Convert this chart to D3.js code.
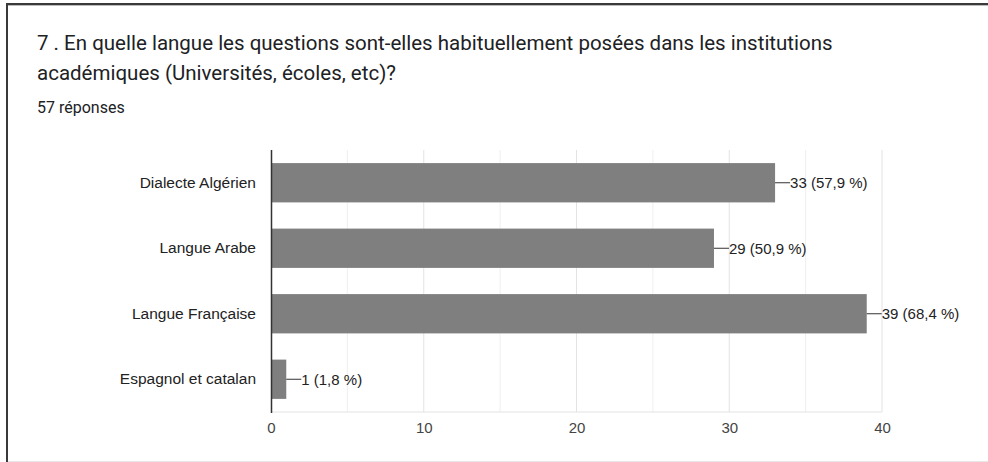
<!DOCTYPE html>
<html><head><meta charset="utf-8">
<script src="https://cdn.jsdelivr.net/npm/d3@7"></script>
<style>body{margin:0;background:#fff}svg{display:block}</style>
</head><body>
<svg id="c" width="988" height="462"></svg>
<script>
const titleLines = ["7 . En quelle langue les questions sont-elles habituellement posées dans les institutions", "académiques (Universités, écoles, etc)?"];
const subtitle = "57 réponses";
const categories = ["Dialecte Algérien", "Langue Arabe", "Langue Française", "Espagnol et catalan"];
const counts = [33, 29, 39, 1];
const percents = ["57,9", "50,9", "68,4", "1,8"];
const tickValues = [0, 10, 20, 30, 40];
const gridValues = [5, 10, 15, 20, 25, 30, 35, 40];

const svg = d3.select("#c");
const W = 988, H = 462;
// frame
svg.append("line").attr("x1",6).attr("x2",W).attr("y1",4).attr("y2",4).attr("stroke","#3a3a3a").attr("stroke-width",2);
svg.append("line").attr("x1",6).attr("x2",W).attr("y1",5.5).attr("y2",5.5).attr("stroke","#bbb").attr("stroke-width",1);
svg.append("line").attr("x1",7).attr("x2",7).attr("y1",3).attr("y2",H).attr("stroke","#3a3a3a").attr("stroke-width",2);
svg.append("line").attr("x1",8).attr("x2",W).attr("y1",461.5).attr("y2",461.5).attr("stroke","#e6e6e6").attr("stroke-width",1);

const tfont = "Roboto, 'Open Sans', sans-serif";
svg.selectAll("text.title").data(titleLines).join("text").attr("class","title")
  .attr("x",37).attr("y",(d,i)=>50+i*30).attr("font-family",tfont).attr("font-size",20.5)
  .attr("fill","#202124").text(d=>d);
svg.append("text").attr("x",37).attr("y",113).attr("font-family",tfont).attr("font-size",16)
  .attr("fill","#202124").text(subtitle);

const x = d3.scaleLinear().domain([0,40]).range([271,882]);
const y = d3.scaleBand().domain(categories).range([150,412]).paddingInner(0.4).paddingOuter(0.2);
const f = "'Liberation Sans', Arial, sans-serif";

// gridlines
svg.append("g").selectAll("line").data(gridValues).join("line")
  .attr("x1",d=>x(d)).attr("x2",d=>x(d)).attr("y1",150).attr("y2",412)
  .attr("stroke",d=>d%10===0?"#e3e3e3":"#efefef").attr("stroke-width",1);
svg.append("line").attr("x1",271).attr("x2",x(40)).attr("y1",412).attr("y2",412).attr("stroke","#e3e3e3");

// bars
svg.append("g").selectAll("rect").data(categories).join("rect")
  .attr("x",x(0)).attr("y",d=>y(d)).attr("width",(d,i)=>x(counts[i])-x(0)).attr("height",y.bandwidth())
  .attr("fill","#7f7f7f");

// axis line
svg.append("line").attr("x1",271.5).attr("x2",271.5).attr("y1",150).attr("y2",413).attr("stroke","#333").attr("stroke-width",1.5);

// category labels via axis
const yAxis = d3.axisLeft(y).tickSize(0).tickPadding(15);
const gy = svg.append("g").attr("transform","translate(271,0)").call(yAxis);
gy.select(".domain").remove();
gy.selectAll("text").attr("font-family",f).attr("font-size",15.5).attr("fill","#222");

// x axis
const xAxis = d3.axisBottom(x).tickValues(tickValues).tickSize(0).tickPadding(10);
const gx = svg.append("g").attr("transform","translate(0,412)").call(xAxis);
gx.select(".domain").remove();
gx.selectAll("text").attr("font-family",f).attr("font-size",15).attr("fill","#444");

// value labels
const lab = svg.append("g");
categories.forEach((c,i)=>{
  const xe = x(counts[i]), yc = y(c)+y.bandwidth()/2;
  lab.append("line").attr("x1",xe).attr("x2",xe+15).attr("y1",yc).attr("y2",yc).attr("stroke","#333").attr("stroke-width",1);
  lab.append("text").attr("x",xe+15).attr("y",yc).attr("dy","0.35em").attr("font-family",f).attr("font-size",15)
    .attr("fill","#222").text(counts[i]+" ("+percents[i]+" %)");
});
</script>
</body></html>
